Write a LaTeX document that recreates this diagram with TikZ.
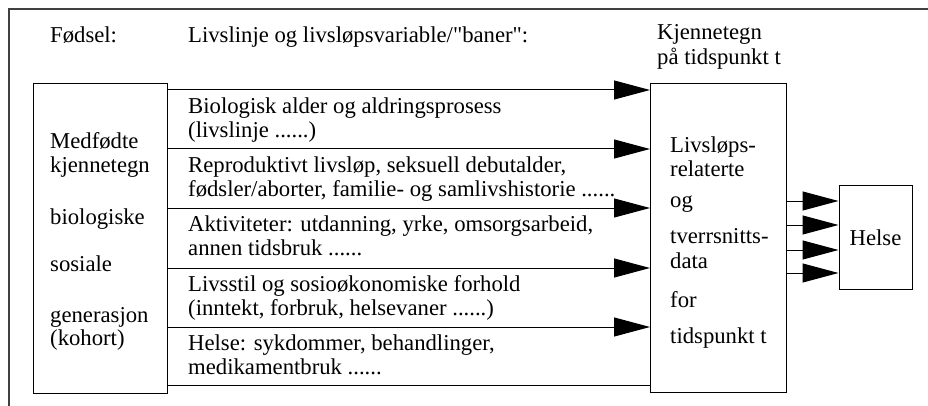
\documentclass[tikz,border=0pt]{standalone}
\usepackage{fontspec}
\setmainfont{Liberation Serif}
\usetikzlibrary{arrows.meta}
\begin{document}
\begin{tikzpicture}
        [
            x=1pt, y=-1pt,
            every node/.style={font=\fontsize{22.7pt}{24.5pt}\selectfont, inner sep=0pt},
            tekst/.style={anchor=base west},
            boks/.style={draw, line width=1pt, anchor=north west},
            pil/.style={draw, line width=1pt, -{Triangle[length=36pt, width=19pt]}},
            strek/.style={draw, line width=1pt}
        ]
        \useasboundingbox (0,0) rectangle (928,406);

        % ramme
        \draw[line width=1.2pt, black!75] (928,9) -- (9,9) -- (9,406);

        % overskrifter
        \node[tekst] (fodsel) at (50,43) {Fødsel:};
        \node[tekst] (baner) at (188,43) {Livslinje og livsløpsvariable/\textquotedbl baner\textquotedbl:};
        \node[tekst] (kjenn) at (657,40) {Kjennetegn};
        \node[tekst] (tidspkt) at (657,65) {på tidspunkt t};

        % bokser
        \node[boks, minimum width=134pt, minimum height=310pt] (medfodt) at (33,83) {};
        \node[boks, minimum width=136pt, minimum height=309pt] (tverr) at (650,83) {};
        \node[boks, minimum width=73pt, minimum height=103pt, anchor=center] (helse) at (875.5,237.5) {Helse};

        % medfodte kjennetegn
        \node[tekst] (med1) at (50,149) {Medfødte};
        \node[tekst] (med2) at (50,173) {kjennetegn};
        \node[tekst] (med3) at (50,224) {biologiske};
        \node[tekst] (med4) at (50,271) {sosiale};
        \node[tekst] (med5) at (50,322) {generasjon};
        \node[tekst] (med6) at (50,345) {(kohort)};

        % livslopsrelaterte data
        \node[tekst] (tv1) at (670,153) {Livsløps-};
        \node[tekst] (tv2) at (670,177) {relaterte};
        \node[tekst] (tv3) at (670,207) {og};
        \node[tekst] (tv4) at (670,243) {tverrsnitts-};
        \node[tekst] (tv5) at (670,268) {data};
        \node[tekst] (tv6) at (670,307) {for};
        \node[tekst] (tv7) at (670,343) {tidspunkt t};

        % baner
        \node[tekst] (bio1) at (188,113.5) {Biologisk alder og aldringsprosess};
        \node[tekst] (bio2) at (188,137.5) {(livslinje ......)};
        \node[tekst] (rep1) at (188,172.5) {Reproduktivt livsløp, seksuell debutalder,};
        \node[tekst] (rep2) at (188,196.5) {fødsler/aborter, familie- og samlivshistorie ......};
        \node[tekst] (akt1) at (188,231.5) {Aktiviteter: utdanning, yrke, omsorgsarbeid,};
        \node[tekst] (akt2) at (188,255.5) {annen tidsbruk ......};
        \node[tekst] (liv1) at (188,291.5) {Livsstil og sosioøkonomiske forhold};
        \node[tekst] (liv2) at (188,315.5) {(inntekt, forbruk, helsevaner ......)};
        \node[tekst] (hel1) at (188,350.5) {Helse: sykdommer, behandlinger,};
        \node[tekst] (hel2) at (188,374.5) {medikamentbruk ......};

        % piler
        \foreach \y [count=\i] in {90,149,208,268,327,385}
            \coordinate (r\i) at (0,\y);
        \foreach \i in {1,...,5}
            \draw[pil] (medfodt.east |- r\i) -- (tverr.west |- r\i);
        \draw[strek] (medfodt.east |- r6) -- (tverr.west |- r6);

        \foreach \y [count=\i] in {201,225,250,273}
            \coordinate (h\i) at (0,\y);
        \foreach \i in {1,...,4}
            \draw[pil] (tverr.east |- h\i) -- (helse.west |- h\i);
    \end{tikzpicture}
\end{document}
